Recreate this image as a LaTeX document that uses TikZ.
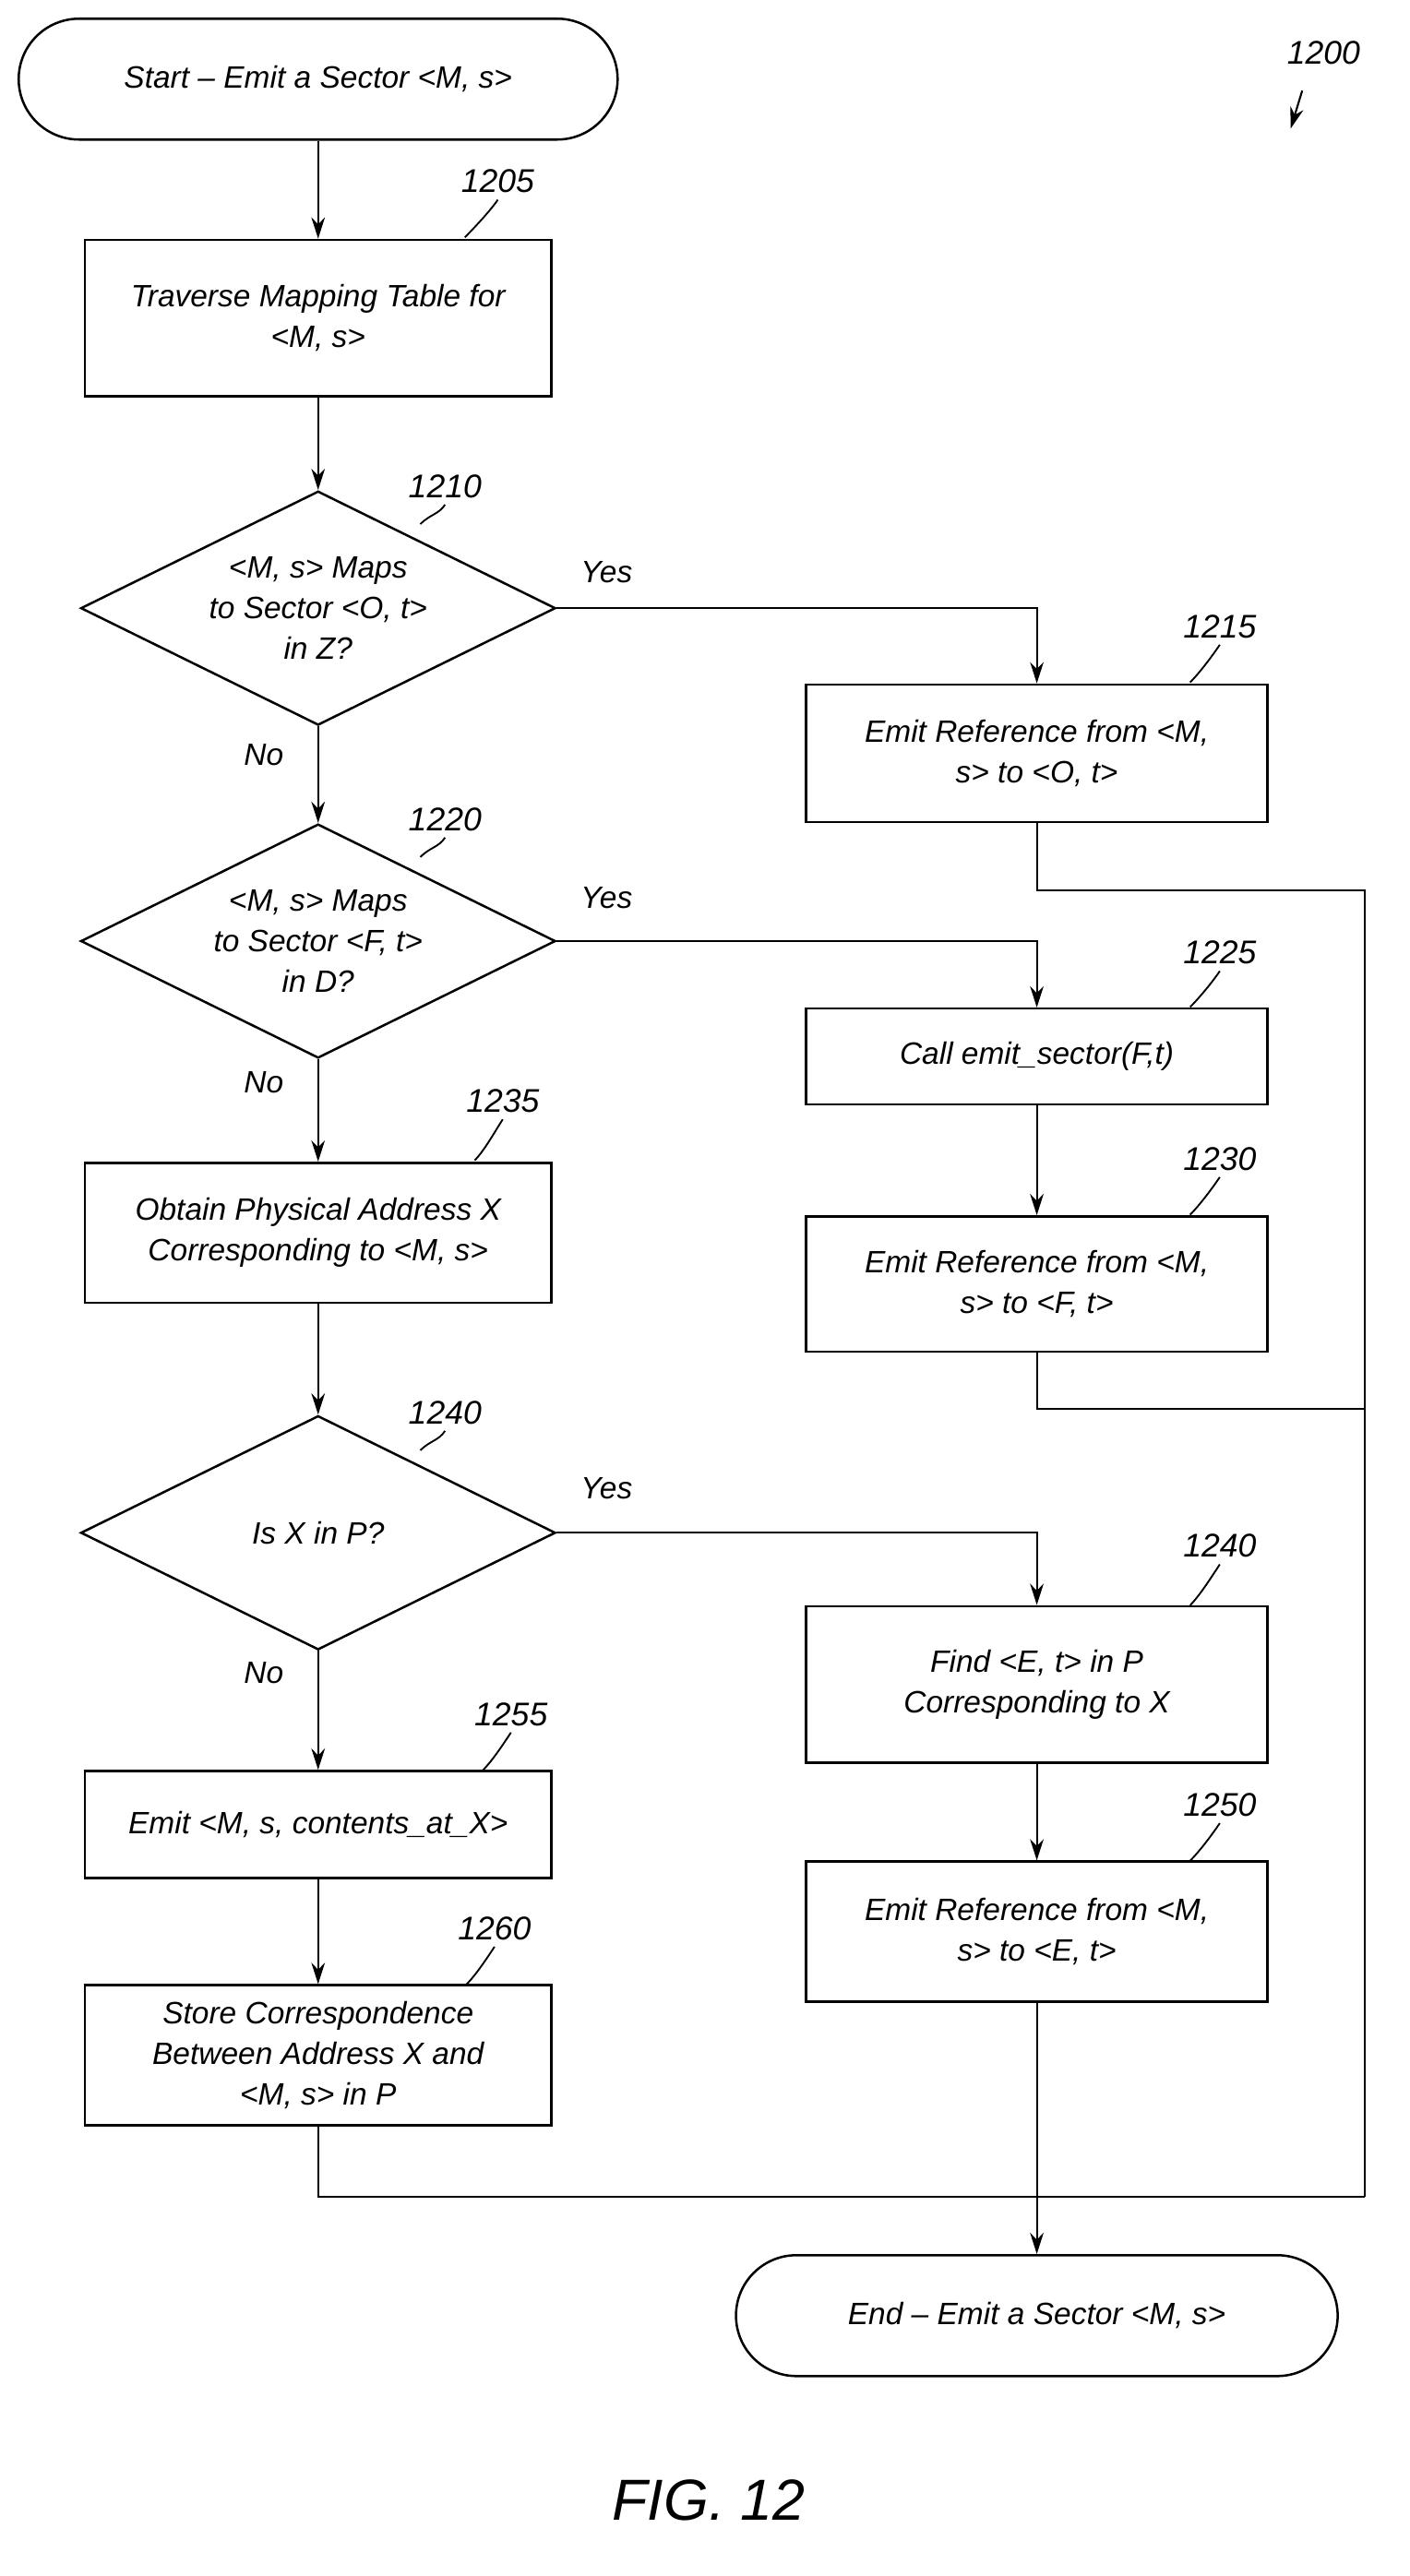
\documentclass[tikz,border=0pt]{standalone}
\usepackage{fontspec}
\setmainfont{Liberation Sans}
\usetikzlibrary{shapes.geometric,arrows.meta}
\begin{document}
\begin{tikzpicture}[x=0.03cm,y=-0.03cm,
  every node/.style={font=\fontsize{16}{21}\selectfont\itshape},
  box/.style={draw,line width=1.2pt,minimum width=8.49cm,minimum height=#1,align=center,inner sep=2pt},
  rbox/.style={draw,line width=1.2pt,minimum width=8.4cm,minimum height=#1,align=center,inner sep=2pt},
  dia/.style={draw,line width=1.2pt,diamond,minimum width=8.64cm,minimum height=4.26cm,inner sep=0pt},
  term/.style={draw,line width=1.2pt,rounded corners=1.1cm,minimum width=#1,minimum height=2.2cm},
  ref/.style={font=\fontsize{17}{20}\selectfont\itshape},
  lead/.style={line width=0.9pt},
  line/.style={line width=1pt},
  arr/.style={line width=1pt,-{Stealth[length=11pt,width=7pt]}}]
\useasboundingbox (0,0) rectangle (855,1563);
\node[term=10.9cm] (start) at (193,48) {Start -- Emit a Sector <M, s>};
\node[ref] (r1200) at (803,32) {1200};
\coordinate (a1200) at (783,78);
\draw[arr] (790,55) -- (a1200);
\node[box=2.85cm] (n1205) at (193,193) {Traverse Mapping Table for\\<M, s>};
\node[ref] (r1205) at (302,110) {1205};
\node[dia] (d1210) at (193,369) {};
\node[align=center] (t1210) at (193,369) {<M, s> Maps\\to Sector <O, t>\\in Z?};
\node[ref] (r1210) at (270,295) {1210};
\node (y1) at (368,347) {Yes};
\node (no1) at (160,458) {No};
\node[rbox=2.5cm] (n1215) at (629,457) {Emit Reference from <M,\\s> to <O, t>};
\node[ref] (r1215) at (740,380) {1215};
\node[dia] (d1220) at (193,571) {};
\node[align=center] (t1220) at (193,571) {<M, s> Maps\\to Sector <F, t>\\in D?};
\node[ref] (r1220) at (270,497) {1220};
\node (y2) at (368,545) {Yes};
\node (no2) at (160,657) {No};
\node[rbox=1.74cm] (n1225) at (629,641) {Call emit\_sector(F,t)};
\node[ref] (r1225) at (740,578) {1225};
\node[rbox=2.46cm] (n1230) at (629,779) {Emit Reference from <M,\\s> to <F, t>};
\node[ref] (r1230) at (740,703) {1230};
\node[box=2.55cm] (n1235) at (193,748) {Obtain Physical Address X\\Corresponding to <M, s>};
\node[ref] (r1235) at (305,668) {1235};
\node[dia] (d1240) at (193,930) {};
\node (t1240) at (193,930) {Is X in P?};
\node[ref] (r1240) at (270,857) {1240};
\node (y3) at (368,903) {Yes};
\node (no3) at (160,1015) {No};
\node[rbox=2.85cm] (n1240b) at (629,1022) {Find <E, t> in P\\Corresponding to X};
\node[ref] (r1240b) at (740,938) {1240};
\node[box=1.95cm] (n1255) at (193,1107) {Emit <M, s, contents\_at\_X>};
\node[ref] (r1255) at (310,1040) {1255};
\node[rbox=2.55cm] (n1250) at (629,1172) {Emit Reference from <M,\\s> to <E, t>};
\node[ref] (r1250) at (740,1095) {1250};
\node[box=2.55cm] (n1260) at (193,1247) {Store Correspondence\\Between Address X and\\<M, s> in P};
\node[ref] (r1260) at (300,1170) {1260};
\node[term=10.95cm] (end) at (629,1405) {End -- Emit a Sector <M, s>};
\node[font=\fontsize{30}{34}\selectfont\itshape] (fig) at (430,1517) {FIG. 12};
% leaders
\foreach \r/\x/\y in {r1205/282/144,r1210/255/318,r1215/722/414,r1220/255/520,r1225/722/611,r1230/722/737,r1235/288/704,r1240/255/880,r1240b/722/974,r1255/293/1074,r1250/722/1129,r1260/283/1204}
  \draw[lead] (\r.south) .. controls +(-4,6) and +(6,-6) .. (\x,\y);
% connectors
\coordinate (c1) at (629,540); \coordinate (c2) at (629,855); \coordinate (c3) at (193,1333);
\coordinate (k1) at (828,540); \coordinate (k2) at (828,855); \coordinate (k3) at (828,1333);
\draw[arr] (start) -- (n1205);
\draw[arr] (n1205) -- (d1210);
\draw[arr] (d1210) -- (d1220);
\draw[arr] (d1220) -- (n1235);
\draw[arr] (n1235) -- (d1240);
\draw[arr] (d1240) -- (n1255);
\draw[arr] (n1255) -- (n1260);
\draw[arr] (d1210.east) -| (n1215.north);
\draw[arr] (d1220.east) -| (n1225.north);
\draw[arr] (n1225) -- (n1230);
\draw[arr] (d1240.east) -| (n1240b.north);
\draw[arr] (n1240b) -- (n1250);
\draw[arr] (n1250) -- (end);
\draw[line] (n1215.south) -- (c1) -- (k1) -- (k3);
\draw[line] (n1230.south) -- (c2) -- (k2);
\draw[line] (n1260.south) -- (c3) -- (k3);
\end{tikzpicture}
\end{document}
